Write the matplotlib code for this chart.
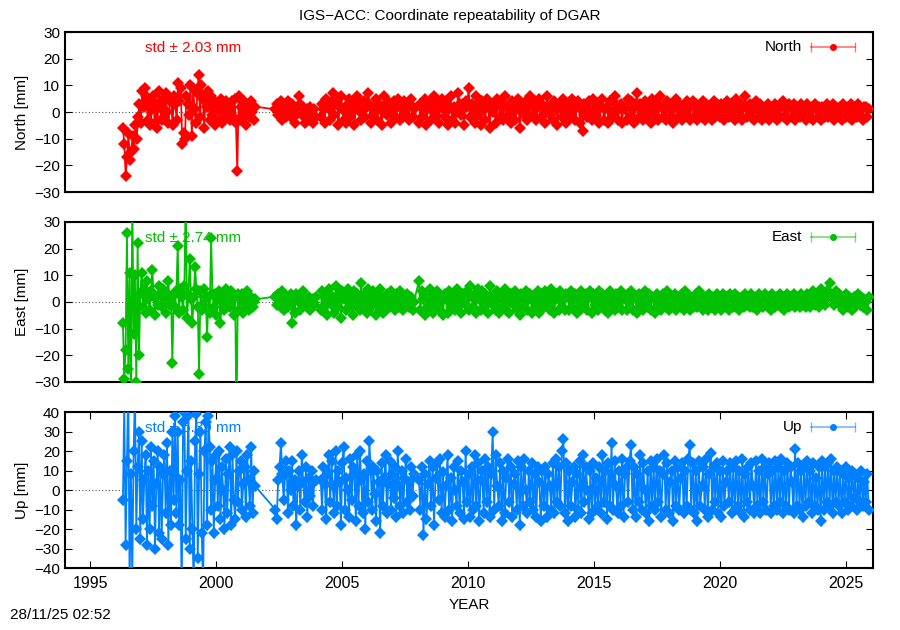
import numpy as np
import matplotlib
matplotlib.use("Agg")
from matplotlib import pyplot as plt

plt.rcParams['font.family'] = ['Liberation Sans', 'DejaVu Sans']

# ----------------------------------------
# data (decimal year, residuals in mm)
# continuous observing segments; samples are evenly spaced inside each one
seg_start = [1996.30, 2002.35, 2004.15, 2008.05]
seg_end = [2001.55, 2003.95, 2007.85, 2025.90]

north_1 = [-6, -12, -24, -17, -8, -18, -15, -9, -14, -5,
           -10, -2, 3, -4, 8, 2, 9, 6, -3, 4,
           -5, 1, 6, -4, 3, -6, 8, 2, -3, 5, -2, 7, 0, -4,
           4, 5, -5, 6, 3, -3, 11, 4, 9, -12, -8, -10, 6, 3, -1, 10, -9, 9, 1, -4,
           7, 14, -2, 10, 5, -6, 7, 2, 8, -3, 6, -1, 4, -5, 3, 1,
           -3, 5, -4, 2, -2, 4, -1, 3, -3, 4, -2, 5, -4, -22, 6, -3, 2, -1, 4, -5,
           3, 1, -2, 4, 0, -3, 2]
north_2 = [1, 3, -1, 2, 4, -3, 1, 2, -2, 4, 0, -2, 3, 1, -4, -1, 2, 6, 3, -1,
           2, -4, -2, 1, -3, 2, -1, -4, 1, -2]
north_3 = [-2, 3, 1, -4, 5, 2, 1, -3, 4, 7, -1, 3, 4, -5, 2, 6, 1, -3, 1, -4,
           3, 5, -2, 0, 3, -5, 2, 6, 4, 0, -3, 1, 4, -2, 2, 7, 3, -4, 2, -1,
           1, 5, -3, 3, 2, -5, 0, 6, 2, -1, 4, 2, -4, -1, 4, 1, -2, 5, 3, -3,
           1, -2, 4, 2, -1, -3, 3, 5, -2, 1]
north_4 = [-4, 3, -2, 1, 5, -5, 2, 4, -3, 0, 6, -1, 3, -4, 2, 5, 1, -2, 4, -5,
           1, 6, -3, 2, -4, 0, 7, 3, -1, 3, -5, 4, 2, 9, -2, 3, 1, -4, 6, -1,
           2, -5, 4, 1, -3, 5, 2, -6, 3, 0, 1, -4, 5, 3, -2, 3, -3, 6, 2, -1,
           2, -4, 4, 0, -3, 2, 5, -6, 3, 1, -1, 4, -3, 2, 6, 3, -1, 4, -3, 2,
           5, -2, 3, 1, -4, 6, 2, -1, 2, -3, 4, 1, -5, 3, 2, -2, 5, 0, -4, 1,
           3, -2, 5, 1, -3, 2, 4, -4, 2, -7, 3, 0, -2, 4, 1, -3, 5, 2, -1, 3,
           -4, 2, 5, -3, 1, 2, -4, 4, 0, -2, 6, 3, -3, 1, 3, -4, 2, 1, -3, 5,
           -2, 4, 1, -4, 3, 7, -2, 3, 0, -3, 4, 2, -2, 2, -4, 5, 1, -1, 3, -3,
           6, 2, -2, 2, -3, 4, 1, -2, 3, -4, 2, 5, -2, 3, 0, -3, 2, -2, 4, 1,
           -3, 2, 4, -2, 3, -3, 1, 2, -2, 4, -3, 3, -2, 2, 1, -3, 4, -2, 3, 0,
           -2, 3, 2, -3, 1, 4, -2, 3, -2, 2, -3, 5, 1, -2, 3, -3, 2, 6, -2, 1,
           3, -2, 2, -3, 4, 1, -2, 3, -3, 2, 0, -2, 3, -3, 2, 1, -2, 3, -3, 2,
           -2, 2, 4, -2, 1, -3, 3, 2, -2, 3, -3, 1, 2, -2, 3, -1, 2, -3, 3, 1,
           -2, 2, -3, 3, 1, -2, 2, -3, 2, 1, -2, 3, -2, 2, -1, 3, -3, 2, 1, -2,
           2, -3, 3, 1, -2, 2, -2, 3, -3, 1, 2, -2, 3, -2, 1, -3, 2, 2, -2, 1]

east_1 = [-8, -29, -18, 26, -25, 11, -45, 40, -12, 10, -30, 22, -20, 3, 11, -2, 5, -4, 8, 1,
          -3, 4, 12, 2, -5, 2, -1, 6, 3, -2, 5, 1, -4, 3, 8, -1, 2, -23, 3, -2,
          4, 21, -4, 5, 2, -3, 6, 40, -6, 3, 16, 1, -8, 2, 13, 5, -2, -27, 4, -3,
          -1, 5, 2, -13, 2, -4, 24, 3, -2, 3, -5, 1, 4, -8, 2, 0, -3, 5, -2, 3,
          -2, 4, 1, -5, 2, -45, 3, -3, 1, 3, -4, 2, -1, 4, -3, 1, 2, -2, 0, 1]
east_2 = [2, -1, 3, 1, -2, 4, -3, 1, 2, -2, -1, 3, -8, 2, -4, 3, 1, 0, -3, 2,
          4, -1, 1, -2, 2, -3, 0, 1, -1, 2]
east_3 = [-3, 4, -2, 3, 1, -5, 5, 2, -1, 2, -4, 6, 0, -2, 3, -6, 4, 1, 2, -3,
          5, -2, 2, 0, -5, 4, -1, 3, 1, -3, 7, -2, 1, 3, -4, 5, -3, 2, -1, 4,
          0, -5, 3, -2, 5, 1, -4, 2, -3, 3, 1, -2, 4, -1, 2, -3, 3, 0, -2, 4,
          1, -3, 2, -1, 3, -2, 1, 2, -3, 0]
east_4 = [8, -3, 4, 1, -5, 2, -2, 5, 0, -4, 3, -1, 4, 2, -3, 2, -5, 3, 1, -4,
          4, -2, 3, 0, -3, 5, -2, 2, -4, 3, 1, -1, 4, -3, 6, 2, -2, 3, -4, 5,
          1, -3, 4, -2, 3, 0, -4, 6, 2, -1, 2, -3, 4, -4, 3, 1, -2, 5, -3, 2,
          -4, 3, 0, -1, 4, -3, 2, -5, 3, 1, -2, 4, -3, 1, 3, -4, 2, 0, -2, 4,
          -4, 3, 1, -2, 4, -1, 2, -3, 5, 0, -4, 2, 3, -3, 4, -2, 1, -3, 3, 2,
          -3, 4, -2, 1, 3, -4, 2, -3, 4, 0, -2, 3, -3, 2, 4, -4, 3, -1, 2, -3,
          4, -2, 3, 1, -3, 2, -4, 4, -1, 2, -3, 3, 0, -2, 4, -3, 2, 1, -3, 3,
          -2, 4, -3, 2, 1, -4, 3, -2, 2, -3, 4, 0, -2, 3, -3, 2, 1, -4, 3, -1,
          2, -3, 3, 1, -2, 4, -3, 2, 0, -2, 3, -3, 2, 1, -2, 3, -3, 4, -1, 2,
          -3, 2, 1, -2, 3, -2, 4, -1, 2, -3, 2, 0, -3, 3, -2, 2, 1, -3, 3, -2,
          2, -3, 3, 0, -2, 2, -3, 3, 1, -2, 3, -2, 2, -3, 1, 2, -2, 3, -1, 2,
          -2, 3, -2, 1, 2, -3, 3, -1, 2, -2, 3, 0, -2, 2, -3, 3, 1, -2, 2, -1,
          3, -2, 2, -3, 1, 3, -2, 2, -1, 3, -2, 2, 0, -2, 3, -1, 2, -2, 3, 1,
          -2, 2, 4, -1, 3, 2, -2, 5, 1, 3, -1, 4, 2, 7, 3, 1, -1, 4, 2, 3,
          -1, 2, -3, 1, 3, -2, 2, 0, -3, 2, -2, 1, 3, -1, 2, -2, 1, 0, -3, 2]

up_1 = [-5, 45, -28, 15, 55, -50, 8, -45, 20, 50, -20, 12, 30, -25, 25, -15, 5, 18, -28, 10,
        -20, 22, -8, 15, -30, 3, 20, -22, 12, -25, 8, 18, -12, 24, -28, 10, -18, 30, -5, 38,
        -12, 30, -18, 5, -55, 35, 40, -25, 10, 38, -30, 15, -20, -50, 25, 39, -35, 8, 30, -22,
        -52, 20, 35, -18, 38, 22, -10, 15, -22, 5, 18, -8, 20, -15, 12, 0, -20, 16, -12, 8,
        22, -18, 18, -5, -15, 20, -6, 10, 15, -10, 3, 12, -14, 18, 5, -8, 22, -12, 10, 2]
up_2 = [-10, -15, 5, 12, 24, 8, -5, 8, 15, -12, 10, 0, 15, -8, 5, -18, 2, 10, -10, 18,
        4, -6, 12, -14, 6, -3, 10, -8, 4, 5]
up_3 = [5, -10, 12, 3, -15, 8, 18, -6, 15, 2, -12, 20, -8, 10, 4, -18, 14, 22, -10, 6,
        0, -14, 16, -5, 12, 8, -16, 18, -8, 20, 5, -12, 8, -20, 15, -6, 25, 10, -10, 12,
        -2, -16, 10, 4, -22, 14, -8, 6, 18, -12, 3, 15, -10, 8, -4, 12, -14, 20, 2, -8,
        10, -12, 6, 16, -6, 4, -10, 12, -3, 8]
up_4 = [5, -10, 12, -23, 8, -15, 3, 15, -8, 12, -18, 6, 14, -5, 16, -12, 9, -14, 2, 18,
        -10, 6, -16, 12, 0, -8, 15, -12, 10, 4, -15, 20, -6, 8, -14, 12, -10, 18, -8, 14,
        -16, 5, 10, -12, 16, -6, 12, -14, 8, 30, -10, 18, 2, -8, 14, -16, 10, -12, 6, 16,
        -6, 12, -14, 3, 8, -10, 15, -18, 12, -8, 16, 0, -12, 10, -6, 14, -10, 8, -14, 12,
        4, -16, 10, -8, 12, -14, 8, 2, -10, 14, -12, 16, -6, 12, -8, 20, 26, -12, 14, -16,
        10, -8, 4, 12, -14, 8, -10, 15, -12, 18, -6, 12, 0, -15, 10, -12, 14, -10, 6, -8,
        12, -12, 18, -6, 10, -15, 14, -8, 24, -10, 15, 2, -12, 10, -8, 16, -14, 8, 12, -6,
        15, 23, -10, 12, -14, 8, -6, 18, -10, 14, 0, -12, 10, -16, 15, -8, 12, -10, 16, -6,
        10, -14, 8, 18, -10, 14, -12, 4, 10, -16, 15, -8, 12, -10, 6, 14, -12, 10, -8, 16,
        23, -10, 14, -12, 10, -16, 15, -8, 2, 12, -10, 16, -14, 8, 19, -10, 12, -6, 14, -12,
        10, -14, 15, -8, 4, 10, -6, 14, -12, 12, -10, 15, -8, 10, -12, 16, -14, 8, -6, 12,
        -10, 14, 2, -12, 15, -8, 10, -12, 16, -6, 12, -10, 8, 14, -12, 10, -8, 15, -10, 12,
        -6, 16, -12, 10, -8, 14, -10, 12, 4, -12, 21, -8, 14, -10, 10, -14, 12, -8, 15, -6,
        10, -12, 14, -8, 6, -10, 12, -16, 15, -10, 12, -6, 14, -8, 16, -12, 10, -6, 12, -8,
        10, -12, 8, -6, 12, -10, 6, -8, 10, -4, 8, -10, 6, -6, 10, -8, 4, -6, 8, -10]

# typical formal errors (mm)
sigma = {'North': 1.0, 'East': 1.0, 'Up': 2.5}
std_text = {'North': 'std ± 2.03 mm', 'East': 'std ± 2.74 mm', 'Up': 'std ± 6.39 mm'}
colors = {'North': '#ff0000', 'East': '#00c000', 'Up': '#0080ff'}
ylims = {'North': 30, 'East': 30, 'Up': 40}

series = {'North': [north_1, north_2, north_3, north_4],
          'East': [east_1, east_2, east_3, east_4],
          'Up': [up_1, up_2, up_3, up_4]}


def build(parts):
    t, v = [], []
    for s, e, vals in zip(seg_start, seg_end, parts):
        t.extend(np.linspace(s, e, len(vals)))
        v.extend(vals)
    return np.array(t), np.array(v, dtype=float)


# ----------------------------------------
# plotting
fig = plt.figure(figsize=(9, 6.3), dpi=100)
boxes = [(0.0722, 0.6952, 0.8978, 0.254),
         (0.0722, 0.3937, 0.8978, 0.254),
         (0.0722, 0.0984, 0.8978, 0.2476)]

for (name, parts), box in zip(series.items(), boxes):
    ax = fig.add_axes(box)
    t, v = build(parts)
    c = colors[name]
    lim = ylims[name]
    ax.axhline(0, color='#555555', linestyle=(0, (1, 2)), linewidth=0.8, zorder=1)
    ax.errorbar(t, v, yerr=sigma[name], color=c, linewidth=1.3, elinewidth=1.0,
                capsize=1.5, marker='D', markersize=6.5, markeredgewidth=0, zorder=3)
    ax.text(0.099, 0.9, std_text[name], transform=ax.transAxes, color=c,
            fontsize=11, va='center', ha='left', zorder=2)

    # gnuplot style key: label, then errorbar sample
    ax.text(0.912, 0.906, name, transform=ax.transAxes, fontsize=11,
            ha='right', va='center')
    ax.plot([0.923, 0.978], [0.906, 0.906], transform=ax.transAxes, color=c,
            alpha=0.55, linewidth=1.2, clip_on=False)
    ax.plot([0.923, 0.978], [0.906, 0.906], transform=ax.transAxes, color=c,
            alpha=0.55, linestyle='none', marker='|', markersize=7, clip_on=False)
    ax.plot([0.9505], [0.906], transform=ax.transAxes, color=c, marker='o',
            markersize=4, clip_on=False)

    ax.set_xlim(1994.0, 2026.07)
    ax.set_ylim(-lim, lim)
    ax.set_yticks(np.arange(-lim, lim + 1, 10))
    ax.set_ylabel(f'{name} [mm]', fontsize=11, labelpad=4)
    ax.tick_params(axis='y', direction='in', length=5, right=True, labelsize=11)
    for sp in ax.spines.values():
        sp.set_linewidth(1.5)
    if name == 'Up':
        ax.set_xticks(np.arange(1995, 2026, 5))
        ax.tick_params(axis='x', direction='in', length=5, top=True, labelsize=11.5, pad=6)
        ax.set_xlabel('YEAR', fontsize=11, labelpad=5)
    else:
        ax.set_xticks([])

fig.text(0.5, 0.985, 'IGS\u2212ACC: Coordinate repeatability of DGAR', ha='center',
         va='top', fontsize=11)
fig.text(0.011, 0.012, '28/11/25 02:52', ha='left', va='bottom', fontsize=11)

plt.savefig('out.png', dpi=100)
